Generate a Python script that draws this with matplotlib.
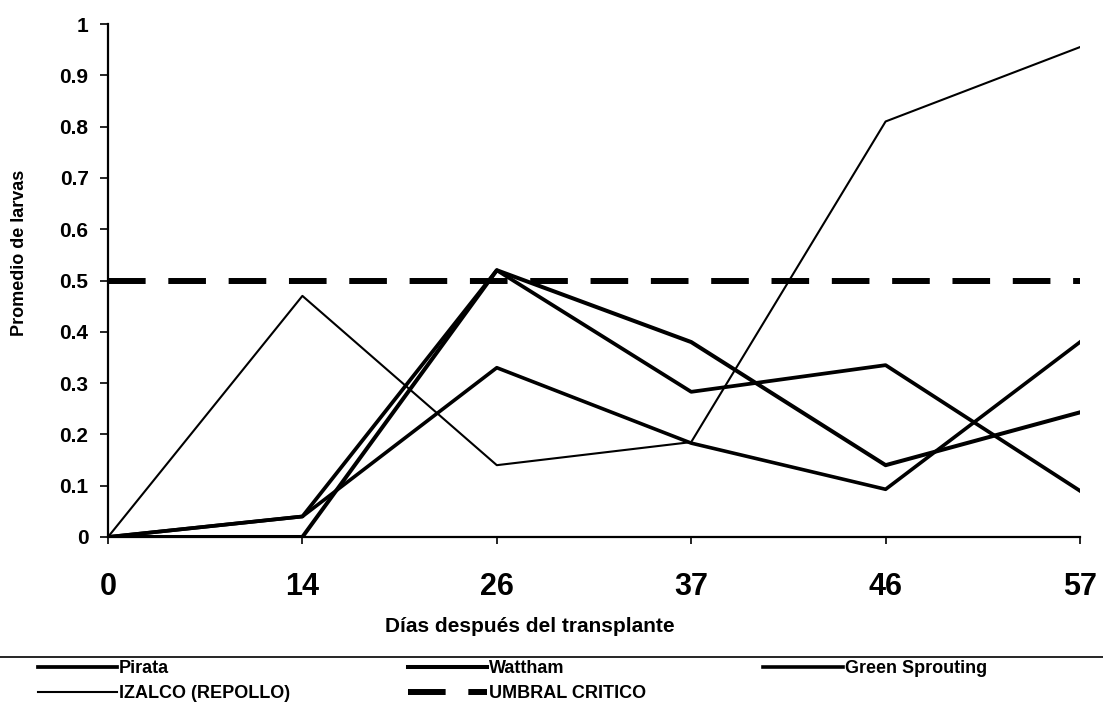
import matplotlib

matplotlib.use("Agg")
import matplotlib.pyplot as plt
from matplotlib.lines import Line2D

plt.rcParams["font.family"] = ["Liberation Sans", "DejaVu Sans"]
plt.rcParams["font.weight"] = "bold"

# values
dias = ["0", "14", "26", "37", "46", "57"]
pirata = [0.0, 0.04, 0.52, 0.283, 0.335, 0.09]
wattham = [0.0, 0.0, 0.52, 0.38, 0.14, 0.243]
green = [0.0, 0.04, 0.33, 0.183, 0.093, 0.38]
izalco = [0.0, 0.47, 0.14, 0.185, 0.81, 0.955]
umbral = [0.5] * len(dias)
yticks = [0, 0.1, 0.2, 0.3, 0.4, 0.5, 0.6, 0.7, 0.8, 0.9, 1]

W, H = 1103, 705
fig = plt.figure(figsize=(W / 100, H / 100), dpi=100)
ax = fig.add_axes([108 / W, 1 - 537 / H, (1080 - 108) / W, (537 - 24) / H])

x = list(range(len(dias)))
h_umb, = ax.plot(x, umbral, color="black", lw=4.3, solid_capstyle="butt",
                 dash_capstyle="butt", dashes=(6.3, 3.8), label="UMBRAL CRITICO")
h_pir, = ax.plot(x, pirata, color="black", lw=2.7, label="Pirata")
h_wat, = ax.plot(x, wattham, color="black", lw=2.9, label="Wattham")
h_gre, = ax.plot(x, green, color="black", lw=2.6, label="Green Sprouting")
h_iza, = ax.plot(x, izalco, color="black", lw=1.5, label="IZALCO (REPOLLO)")

ax.set_xlim(0, len(dias) - 1)
ax.set_ylim(0, 1)
ax.set_xticks(x)
ax.set_xticklabels(dias, fontsize=22, fontweight="bold")
ax.set_yticks(yticks)
ax.set_yticklabels(["%g" % v for v in yticks], fontsize=15, fontweight="bold")
ax.tick_params(axis="x", length=5, width=1.2, pad=20)
ax.tick_params(axis="y", length=6, width=1.2, pad=8)
for s in ("top", "right"):
    ax.spines[s].set_visible(False)
for s in ("left", "bottom"):
    ax.spines[s].set_linewidth(1.6)

fig.text(20 / W, 1 - 253 / H, "Promedio de larvas", rotation=90, fontsize=13,
         fontweight="bold", ha="center", va="center")
fig.text(530 / W, 1 - 627 / H, "Días después del transplante", fontsize=15,
         fontweight="bold", ha="center", va="center")

# rule above the legend, full width
fig.add_artist(Line2D([0, 1], [1 - 657 / H] * 2, transform=fig.transFigure,
                      color="black", lw=1.2))

fig.legend([h_pir, h_iza, h_wat, h_umb, h_gre],
           ["Pirata", "IZALCO (REPOLLO)", "Wattham", "UMBRAL CRITICO", "Green Sprouting"],
           ncol=3, loc="upper left", bbox_to_anchor=(38 / W, 1 - 660 / H),
           frameon=False, handlelength=4.4, handletextpad=0.1,
           columnspacing=6.5, labelspacing=0.45, borderpad=0, borderaxespad=0,
           prop={"weight": "bold", "size": 13})

fig.savefig("out.png", dpi=100)
